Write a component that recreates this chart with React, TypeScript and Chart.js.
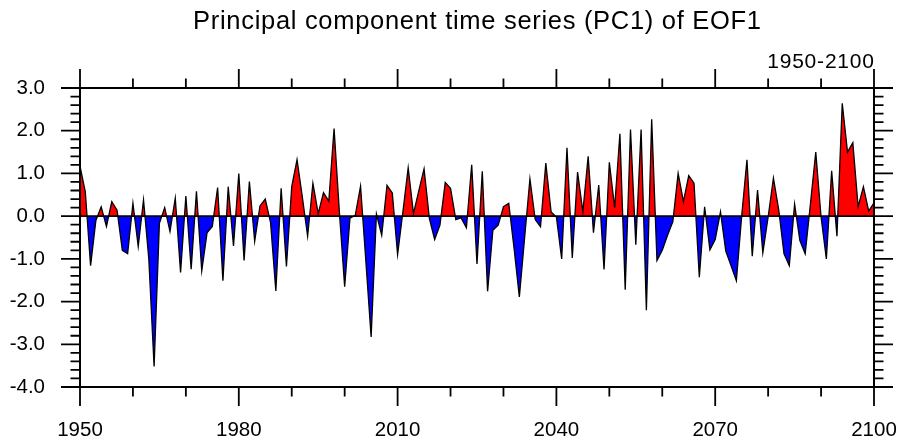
import React, { useEffect, useRef } from "react";
import { Chart, registerables } from "chart.js";

Chart.register(...registerables);

// ---- data (PC1 of EOF1, one value per year, 1950..2100) ----
const START_YEAR = 1950;
const pc1_1950s = [1.17, 0.57, -1.16, -0.1, 0.22, -0.24, 0.34, 0.14, -0.8, -0.88];
const pc1_1960s = [0.3, -0.71, 0.38, -1.0, -3.52, -0.17, 0.2, -0.36, 0.42, -1.32];
const pc1_1970s = [0.47, -1.24, 0.58, -1.28, -0.39, -0.24, 0.67, -1.51, 0.69, -0.7];
const pc1_1980s = [1.0, -1.04, 0.81, -0.59, 0.24, 0.4, -0.15, -1.75, 0.65, -1.18];
const pc1_1990s = [0.69, 1.32, 0.45, -0.47, 0.77, 0.06, 0.55, 0.35, 2.05, 0.1];
const pc1_2000s = [-1.65, -0.05, 0.02, 0.7, -1.05, -2.83, 0.05, -0.45, 0.72, 0.54];
const pc1_2010s = [-0.9, 0.1, 1.13, 0.06, 0.59, 1.11, -0.05, -0.55, -0.21, 0.79];
const pc1_2020s = [0.65, -0.08, -0.04, -0.27, 1.2, -1.12, 1.05, -1.76, -0.33, -0.21];
const pc1_2030s = [0.22, 0.3, -0.75, -1.89, -0.5, 0.87, -0.08, -0.25, 1.24, 0.1];
const pc1_2040s = [-0.02, -1.0, 1.6, -0.98, 1.03, 0.1, 1.4, -0.39, 0.73, -1.25];
const pc1_2050s = [1.26, 0.2, 1.93, -1.72, 2.03, -0.67, 2.03, -2.2, 2.27, -1.04];
const pc1_2060s = [-0.8, -0.45, -0.13, 1.0, 0.34, 0.95, 0.77, -1.43, 0.22, -0.79];
const pc1_2070s = [-0.55, 0.1, -0.82, -1.16, -1.51, 0.0, 1.32, -0.94, 0.61, -0.86];
const pc1_2080s = [-0.02, 0.89, 0.15, -0.88, -1.16, 0.28, -0.57, -0.88, 0.3, 1.5];
const pc1_2090s = [-0.02, -1.0, 1.06, -0.47, 2.64, 1.5, 1.72, 0.22, 0.69, 0.12];
const pc1_2100 = [0.31];

const PC1 = [
  ...pc1_1950s, ...pc1_1960s, ...pc1_1970s, ...pc1_1980s, ...pc1_1990s,
  ...pc1_2000s, ...pc1_2010s, ...pc1_2020s, ...pc1_2030s, ...pc1_2040s,
  ...pc1_2050s, ...pc1_2060s, ...pc1_2070s, ...pc1_2080s, ...pc1_2090s,
  ...pc1_2100,
];

const X_TICKS = [1950, 1980, 2010, 2040, 2070, 2100];
const X_MINOR = [1960, 1970, 1990, 2000, 2020, 2030, 2050, 2060, 2080, 2090];
const Y_TICKS = [-4, -3, -2, -1, 0, 1, 2, 3];
const TITLE = "Principal component time series (PC1) of EOF1";
const SUBTITLE = "1950-2100";

const FONT = '"Liberation Sans", Arial, Helvetica, sans-serif';

export default function App() {
  const ref = useRef<HTMLCanvasElement>(null);

  useEffect(() => {
    document.body.style.margin = "0";
    const canvas = ref.current;
    if (!canvas) return;

    const points = PC1.map((v, i) => ({ x: START_YEAR + i, y: v }));

    const nclFrame = {
      id: "nclFrame",
      afterDatasetsDraw(chart: any) {
        const { ctx, chartArea, scales } = chart;
        const y0 = scales.y.getPixelForValue(0);
        ctx.save();
        ctx.strokeStyle = "#000";
        ctx.lineWidth = 1.6;
        ctx.beginPath();
        ctx.moveTo(chartArea.left, y0);
        ctx.lineTo(chartArea.right, y0);
        ctx.stroke();
        ctx.restore();
      },
      afterDraw(chart: any) {
        const { ctx, chartArea, scales } = chart;
        const { left, right, top, bottom } = chartArea;
        const xs = scales.x;
        const ys = scales.y;
        const MAJ = 19;
        const MIN = 9.5;
        ctx.save();
        ctx.strokeStyle = "#000";
        ctx.lineWidth = 2;
        ctx.strokeRect(left, top, right - left, bottom - top);
        ctx.lineWidth = 1.8;
        ctx.beginPath();
        const xTick = (v: number, len: number) => {
          const px = xs.getPixelForValue(v);
          ctx.moveTo(px, bottom);
          ctx.lineTo(px, bottom + len);
          ctx.moveTo(px, top);
          ctx.lineTo(px, top - len);
        };
        X_TICKS.forEach((v) => xTick(v, MAJ));
        X_MINOR.forEach((v) => xTick(v, MIN));
        const yMin = ys.min;
        const yMax = ys.max;
        const steps = Math.round((yMax - yMin) / 0.2);
        for (let k = 0; k <= steps; k++) {
          const v = yMin + k * 0.2;
          const len = k % 5 === 0 ? MAJ : MIN;
          const py = ys.getPixelForValue(v);
          ctx.moveTo(left, py);
          ctx.lineTo(left - len, py);
          ctx.moveTo(right, py);
          ctx.lineTo(right + len, py);
        }
        ctx.stroke();

        // title + subtitle
        ctx.fillStyle = "#000";
        ctx.textBaseline = "alphabetic";
        ctx.font = `25.5px ${FONT}`;
        (ctx as any).letterSpacing = "0.7px";
        ctx.textAlign = "center";
        ctx.fillText(TITLE, (left + right) / 2 + 0.35, 28.5);
        ctx.font = `21px ${FONT}`;
        (ctx as any).letterSpacing = "0.8px";
        ctx.textAlign = "right";
        ctx.fillText(SUBTITLE, right + 0.8, 68);
        (ctx as any).letterSpacing = "0px";
        ctx.restore();
      },
    };

    const tickFont = { family: FONT, size: 20.5 };

    const chart = new Chart(canvas, {
      type: "line",
      data: {
        datasets: [
          {
            data: points,
            borderColor: "#000",
            borderWidth: 1.3,
            pointRadius: 0,
            tension: 0,
            fill: { target: { value: 0 }, above: "#ff0000", below: "#0000ff" },
          } as any,
        ],
      },
      options: {
        responsive: false,
        animation: false,
        layout: { padding: { left: 0, right: 27, top: 88, bottom: 0 } },
        plugins: {
          legend: { display: false },
          tooltip: { enabled: false },
          title: { display: false },
        },
        scales: {
          x: {
            type: "linear",
            min: 1950,
            max: 2100,
            afterBuildTicks: (s: any) => {
              s.ticks = X_TICKS.map((v) => ({ value: v }));
            },
            afterFit: (s: any) => {
              s.height = 56;
              s.paddingLeft = 0;
              s.paddingRight = 0;
            },
            grid: { display: false, drawTicks: false },
            border: { display: false },
            ticks: {
              padding: 31,
              color: "#000",
              font: tickFont,
              maxRotation: 0,
              autoSkip: false,
              callback: (v: any) => String(v),
            },
          },
          y: {
            type: "linear",
            min: -4,
            max: 3,
            afterBuildTicks: (s: any) => {
              s.ticks = Y_TICKS.map((v) => ({ value: v }));
            },
            afterFit: (s: any) => {
              s.width = 80;
              s.paddingTop = 0;
              s.paddingBottom = 0;
            },
            grid: { display: false, drawTicks: false },
            border: { display: false },
            ticks: {
              padding: 35,
              color: "#000",
              font: tickFont,
              autoSkip: false,
              callback: (v: any) => Number(v).toFixed(1),
            },
          },
        },
      } as any,
      plugins: [nclFrame],
    });

    return () => chart.destroy();
  }, []);

  return (
    <canvas ref={ref} width={901} height={443} style={{ display: "block" }} />
  );
}
